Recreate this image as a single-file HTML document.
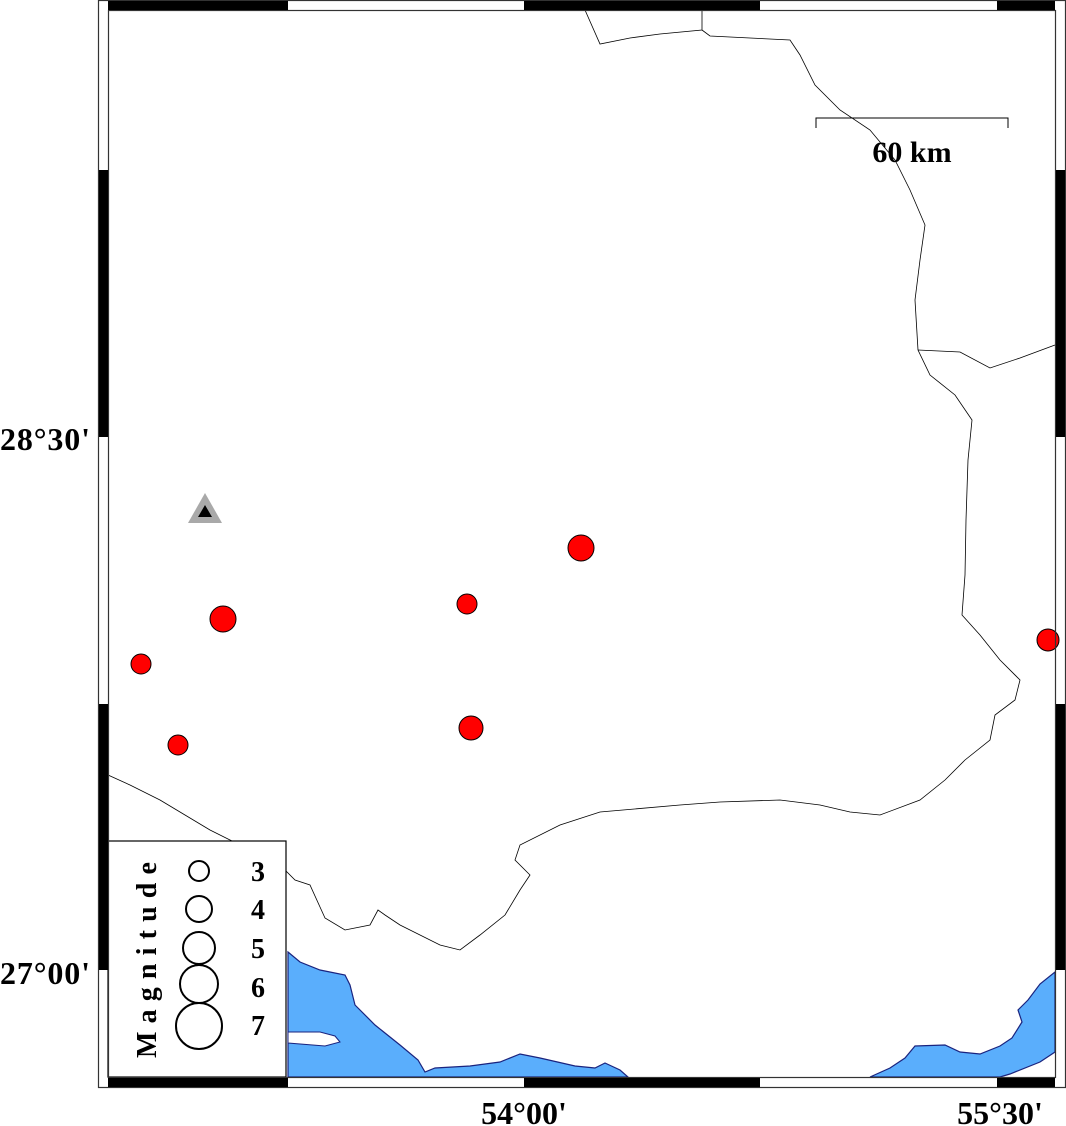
<!DOCTYPE html>
<html><head><meta charset="utf-8"><style>body{margin:0;background:#fff}svg{display:block}</style></head><body>
<svg width="1066" height="1126" viewBox="0 0 1066 1126" xmlns="http://www.w3.org/2000/svg" font-family="Liberation Serif, serif" font-weight="bold">
<rect width="1066" height="1126" fill="#fff"/>
<path d="M288,952 L300,962 L320,970 L345,975 L350,985 L355,1005 L375,1025 L400,1045 L418,1060 L425,1072 L435,1068 L470,1066 L500,1062 L520,1054 L540,1058 L575,1066 L595,1068 L605,1063 L620,1070 L628,1077 L288,1077 Z" fill="#5aaefc" stroke="#1a237e" stroke-width="1.2"/>
<path d="M288,1032 L320,1032 L335,1036 L340,1042 L325,1046 L288,1043 Z" fill="#fff" stroke="#1a237e" stroke-width="1"/>
<path d="M870,1077 L890,1068 L905,1058 L915,1046 L945,1045 L960,1052 L980,1054 L1000,1046 L1012,1038 L1022,1022 L1018,1010 L1028,1000 L1040,984 L1055,972 L1055,1052 L1040,1062 L1010,1074 L1000,1077 Z" fill="#5aaefc" stroke="#1a237e" stroke-width="1.2"/>
<g fill="none" stroke="#000" stroke-width="0.8">
<path d="M585,10 L600,44 L630,38 L660,34 L702,30 L702,10"/>
<path d="M702,30 L710,36 L750,38 L790,40 L800,55 L815,85 L840,110 L870,130 L895,160 L910,190 L925,225 L920,260 L915,300 L918,350 L930,375 L955,395 L972,420 L968,460 L966,520 L965,575 L962,615 L980,635 L1000,660 L1020,680 L1015,700 L995,715 L990,740 L965,760 L945,780 L920,800 L880,815 L850,812 L820,805 L780,800 L720,802 L680,805 L600,812 L560,825 L520,845 L515,860 L530,875 L520,890 L505,915 L480,935 L460,950 L440,945 L400,925 L385,915 L378,910 L370,925 L345,930 L325,918 L310,885 L295,880 L275,860 L250,850 L210,830 L160,800 L130,785 L108,775"/>
<path d="M918,350 L960,352 L990,368 L1020,358 L1055,345"/>
</g>
<path d="M816,128 L816,118 L1008,118 L1008,128" fill="none" stroke="#000" stroke-width="1"/>
<text x="912" y="162" font-size="30" text-anchor="middle">60 km</text>
<polygon points="205,493 188,523 222,523" fill="#a9a9a9"/>
<polygon points="205,505 198,517 212,517" fill="#000"/>
<g fill="#f00" stroke="#000" stroke-width="1">
<circle cx="581" cy="548" r="13"/>
<circle cx="467" cy="604" r="10"/>
<circle cx="223" cy="619" r="13"/>
<circle cx="141" cy="664" r="10"/>
<circle cx="471" cy="728" r="12"/>
<circle cx="178" cy="745" r="10"/>
<circle cx="1048" cy="640" r="11"/>
</g>
<rect x="108" y="841" width="178" height="236" fill="#fff" stroke="#000" stroke-width="1.2"/>
<g fill="none" stroke="#000" stroke-width="2">
<circle cx="199" cy="871" r="10"/>
<circle cx="199" cy="909" r="13"/>
<circle cx="199" cy="948" r="16"/>
<circle cx="199" cy="984" r="19"/>
<circle cx="199" cy="1026" r="23"/>
</g>
<g font-size="28" text-anchor="middle">
<text x="258" y="881">3</text><text x="258" y="919">4</text><text x="258" y="958">5</text><text x="258" y="997">6</text><text x="258" y="1035">7</text>
</g>
<text transform="translate(156,1058) rotate(-90)" font-size="28" textLength="196" lengthAdjust="spacing">Magnitude</text>
<rect x="98.5" y="0.5" width="967" height="1087" fill="none" stroke="#333" stroke-width="1.2"/>
<rect x="108.5" y="10.5" width="947" height="1067" fill="none" stroke="#333" stroke-width="1.2"/>
<g fill="#000">
<rect x="108" y="1" width="180" height="9"/><rect x="524" y="1" width="236" height="9"/><rect x="997" y="1" width="58" height="9"/>
<rect x="108" y="1078" width="180" height="9"/><rect x="524" y="1078" width="236" height="9"/><rect x="997" y="1078" width="58" height="9"/>
<rect x="99" y="170" width="9" height="267"/><rect x="99" y="704" width="9" height="266"/>
<rect x="1056" y="170" width="9" height="267"/><rect x="1056" y="704" width="9" height="266"/>
</g>
<g font-size="32">
<text x="0" y="450" textLength="90">28°30'</text>
<text x="0" y="984" textLength="90">27°00'</text>
<text x="524" y="1124" text-anchor="middle">54°00'</text>
<text x="1000" y="1124" text-anchor="middle">55°30'</text>
</g>
</svg>
</body></html>
